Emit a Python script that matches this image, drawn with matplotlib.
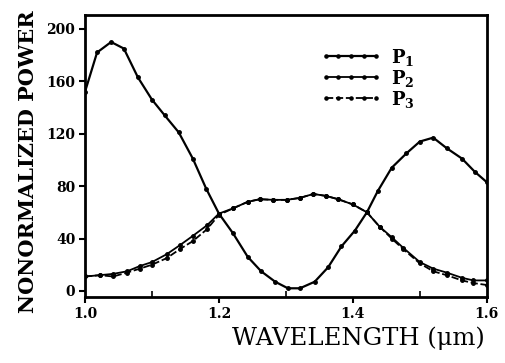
import matplotlib.pyplot as plt
from matplotlib.ticker import FixedLocator

# wavelength (um) and normalized power
wl_p1 = [1.0, 1.018, 1.039, 1.058, 1.079, 1.1, 1.119, 1.14, 1.161, 1.181,
         1.2, 1.221, 1.243, 1.263, 1.284, 1.303, 1.321, 1.343, 1.363, 1.383,
         1.403, 1.421, 1.437, 1.458, 1.48, 1.5, 1.52, 1.54, 1.563, 1.582, 1.6]
p1 = [152, 182, 190, 185, 163, 146, 134, 121, 101, 78,
      59, 44, 26, 15, 7, 2, 2, 7, 18, 34,
      46, 60, 76, 94, 105, 114, 117, 109, 101, 91, 83]

wl_p23 = [1.0, 1.022, 1.042, 1.063, 1.082, 1.1, 1.122, 1.142, 1.161, 1.182,
          1.2, 1.221, 1.243, 1.261, 1.281, 1.301, 1.321, 1.341, 1.36, 1.378,
          1.4, 1.421, 1.44, 1.458, 1.475, 1.5, 1.52, 1.54, 1.563, 1.58, 1.6]
p2 = [11, 12, 13, 15, 19, 22, 28, 35, 42, 50,
      59, 63, 68, 70, 69.5, 69.5, 71, 74, 72.5, 70,
      66, 60, 49, 41, 33, 22, 17, 14, 10, 8, 8]
p3 = [11, 12, 11, 14, 17, 20, 25, 32, 38, 47,
      58, 63, 68, 70, 69.5, 69.5, 71, 74, 72.5, 70,
      66, 60, 49, 40, 32, 21, 15, 12, 8, 6, 4.5]

x_major = [1.0, 1.2, 1.4, 1.6]
x_labels = ['1.0', '1.2', '1.4', '1.6']
x_minor = [1.1, 1.3, 1.5]
y_major = [0, 40, 80, 120, 160, 200]
y_labels = ['0', '40', '80', '120', '160', '200']

plt.rcParams['font.family'] = ['DejaVu Serif']
plt.rcParams['mathtext.fontset'] = 'dejavuserif'

fig = plt.figure(figsize=(5.06, 3.63), dpi=100)
ax = fig.add_axes([0.168, 0.182, 0.794, 0.777])

ax.plot(wl_p1, p1, '-', color='black', lw=1.6, marker='o', ms=2.5,
        label=r'$\mathbf{P}_\mathbf{1}$')
ax.plot(wl_p23, p2, '-', color='black', lw=1.3, marker='o', ms=2.5,
        label=r'$\mathbf{P}_\mathbf{2}$')
ax.plot(wl_p23, p3, '--', dashes=(4, 1.5), color='black', lw=1.3, marker='o', ms=2.5,
        label=r'$\mathbf{P}_\mathbf{3}$')

ax.set_xlim(1.0, 1.6)
ax.set_ylim(-4.6, 210.7)
ax.set_xticks(x_major)
ax.set_xticklabels(x_labels, fontsize=10, fontweight='bold')
ax.xaxis.set_minor_locator(FixedLocator(x_minor))
ax.set_yticks(y_major)
ax.set_yticklabels(y_labels, fontsize=10, fontweight='bold')
ax.tick_params(axis='both', which='major', direction='out', length=4, width=1.5, pad=3)
ax.tick_params(axis='x', which='minor', direction='in', length=4, width=1.2)
for s in ax.spines.values():
    s.set_linewidth(2)

ax.legend(loc='upper left', bbox_to_anchor=(0.545, 0.945), frameon=False,
          handlelength=3.4, numpoints=5, markerscale=0.9, fontsize=13,
          labelspacing=0.0, handletextpad=0.5)

fig.text(0.958, 0.035, 'WAVELENGTH (\u03bcm)', ha='right', va='bottom', fontsize=17.5)
fig.text(0.055, 0.555, 'NONORMALIZED POWER', rotation=90, ha='center', va='center',
         fontsize=15, fontweight='bold')

fig.savefig('out.png', dpi=100)
